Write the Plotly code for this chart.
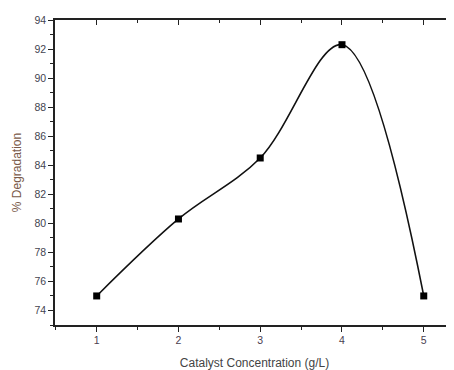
import plotly.graph_objects as go

concentration = [1, 2, 3, 4, 5]
degradation = [75.0, 80.3, 84.5, 92.3, 75.0]
x_ticks = [1, 2, 3, 4, 5]
y_ticks = [74, 76, 78, 80, 82, 84, 86, 88, 90, 92, 94]

x_range = [0.49, 5.37]

fig = go.Figure()
fig.add_trace(go.Scatter(
    x=concentration, y=degradation, mode="lines+markers",
    line=dict(color="#111111", width=1.6, shape="spline", smoothing=1.0),
    marker=dict(symbol="square", size=7, color="#000000"),
    showlegend=False,
))
# invisible trace to activate top axis
fig.add_trace(go.Scatter(x=[concentration[0]], y=[degradation[0]], xaxis="x2", mode="markers",
                         marker=dict(opacity=0), showlegend=False, hoverinfo="skip"))

fig.update_layout(
    width=446, height=362,
    margin=dict(l=47, r=0, t=12, b=45),
    paper_bgcolor="white", plot_bgcolor="white",
    font=dict(family="Liberation Sans, Arial, sans-serif", color="#444444"),
    xaxis=dict(
        range=x_range, tickvals=x_ticks, ticktext=[str(v) for v in x_ticks],
        showgrid=False, zeroline=False, automargin=False,
        showline=True, linecolor="#222222", linewidth=1.5,
        ticks="outside", ticklen=5, tickwidth=1.2, tickcolor="#222222",
        minor=dict(dtick=0.5, ticks="outside", ticklen=3, tickwidth=1.2, tickcolor="#222222", showgrid=False),
        tickfont=dict(size=10.5, color="#4a4050"),
        title=dict(text="Catalyst Concentration (g/L)", font=dict(size=12, color="#444444"), standoff=13),
    ),
    xaxis2=dict(
        range=x_range, overlaying="x", side="top", tickvals=x_ticks, showticklabels=False,
        showgrid=False, zeroline=False, automargin=False,
        showline=True, linecolor="#222222", linewidth=1.5,
        ticks="inside", ticklen=5, tickwidth=1.2, tickcolor="#222222",
        minor=dict(dtick=0.5, ticks="inside", ticklen=3, tickwidth=1.2, tickcolor="#222222", showgrid=False),
    ),
    yaxis=dict(
        range=[73, 94], tickvals=y_ticks, ticktext=[str(v) for v in y_ticks],
        showgrid=False, zeroline=False, automargin=False,
        showline=True, linecolor="#222222", linewidth=1.5,
        ticks="outside", ticklen=5, tickwidth=1.2, tickcolor="#222222",
        minor=dict(dtick=1, ticks="outside", ticklen=3, tickwidth=1.2, tickcolor="#222222", showgrid=False),
        tickfont=dict(size=10.5, color="#444450"),
        title=dict(text="% Degradation", font=dict(size=12, color="#7a5a48"), standoff=10),
    ),
)

fig.write_html("out.html")
